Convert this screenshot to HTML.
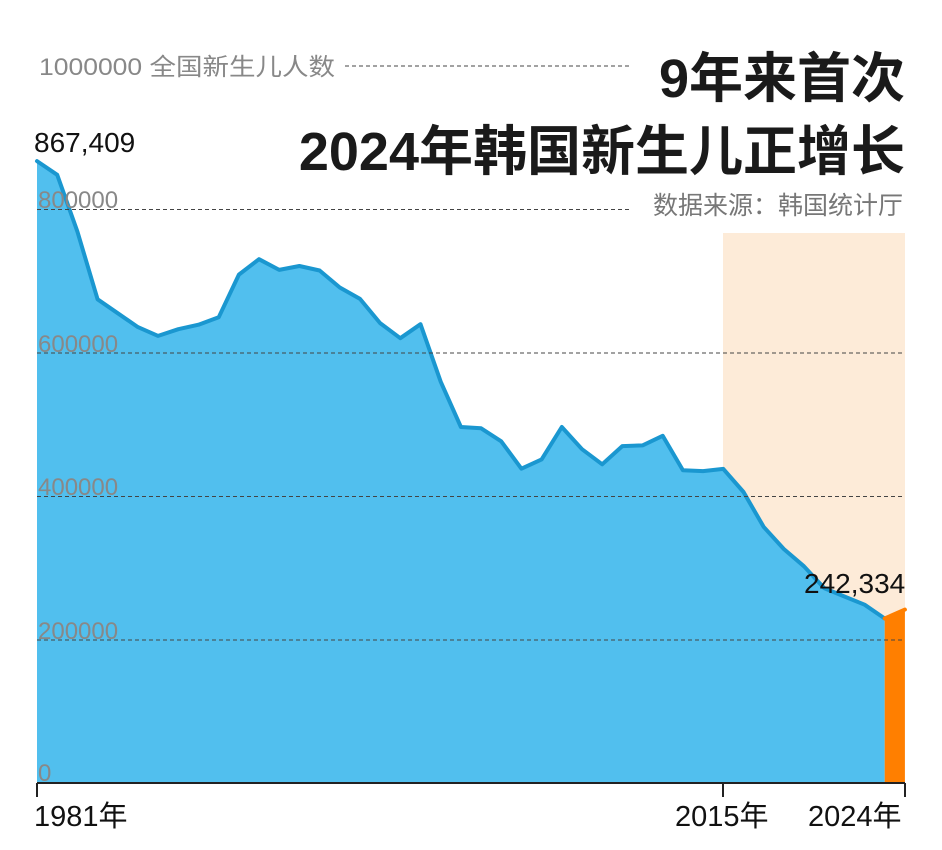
<!DOCTYPE html>
<html><head><meta charset="utf-8"><style>
body{margin:0;background:#fff;}
svg{display:block;font-family:"Liberation Sans","Noto Sans CJK SC",sans-serif;}
</style></head><body>
<svg width="942" height="850" viewBox="0 0 942 850">
<rect width="942" height="850" fill="#fff"/>
<rect x="723" y="233" width="182" height="550" fill="#fdebd8"/>
<path d="M37,161.1 L57.2,174.8 L77.4,231.6 L97.6,299.3 L117.7,313.2 L137.9,327.1 L158.1,335.9 L178.3,329.2 L198.5,324.7 L218.7,317.3 L238.9,274.6 L259,259.2 L279.2,269.9 L299.4,266 L319.6,270.5 L339.8,287.5 L360,298.9 L380.1,323.1 L400.3,338.2 L420.5,324.2 L440.7,381.7 L460.9,427 L481.1,428.3 L501.2,441.3 L521.4,468.7 L541.6,459.4 L561.8,427 L582,449.2 L602.2,464.3 L622.3,446.1 L642.5,445.4 L662.7,435.8 L682.9,470.3 L703.1,471.1 L723.3,468.9 L743.5,492 L763.6,526.8 L783.8,549 L804,566.3 L824.2,588.1 L844.4,596.5 L864.6,604.7 L884.7,618.5 L884.7,783 L37,783 Z" fill="#51bfee"/>
<path d="M884.7,618.5 L904.9,609.6 L904.9,783 L884.7,783 Z" fill="#ff7f00"/>
<path d="M37,161.1 L57.2,174.8 L77.4,231.6 L97.6,299.3 L117.7,313.2 L137.9,327.1 L158.1,335.9 L178.3,329.2 L198.5,324.7 L218.7,317.3 L238.9,274.6 L259,259.2 L279.2,269.9 L299.4,266 L319.6,270.5 L339.8,287.5 L360,298.9 L380.1,323.1 L400.3,338.2 L420.5,324.2 L440.7,381.7 L460.9,427 L481.1,428.3 L501.2,441.3 L521.4,468.7 L541.6,459.4 L561.8,427 L582,449.2 L602.2,464.3 L622.3,446.1 L642.5,445.4 L662.7,435.8 L682.9,470.3 L703.1,471.1 L723.3,468.9 L743.5,492 L763.6,526.8 L783.8,549 L804,566.3 L824.2,588.1 L844.4,596.5 L864.6,604.7 L884.7,618.5" fill="none" stroke="#1a97d0" stroke-width="4" stroke-linejoin="round" stroke-linecap="round"/>
<path d="M884.7,618.5 L904.9,609.6" stroke="#ff7f00" stroke-width="4" stroke-linecap="round"/>
<g stroke="#444" stroke-width="1" stroke-dasharray="4,3">
<line x1="345" y1="66" x2="630" y2="66"/>
<line x1="37" y1="209.5" x2="630" y2="209.5"/>
<line x1="37" y1="353" x2="905" y2="353"/>
<line x1="37" y1="496.5" x2="905" y2="496.5"/>
<line x1="37" y1="640" x2="905" y2="640"/>
</g>
<g fill="#888" font-size="24">
<text x="39" y="75" textLength="296" lengthAdjust="spacingAndGlyphs">1000000 全国新生儿人数</text>
<text x="38" y="208">800000</text>
<text x="38" y="352">600000</text>
<text x="38" y="495">400000</text>
<text x="38" y="639">200000</text>
<text x="38" y="781">0</text>
</g>
<text x="34" y="152" font-size="28" fill="#111">867,409</text>
<text x="804" y="593" font-size="28" fill="#111">242,334</text>
<g font-weight="bold" font-size="54" fill="#1a1a1a" text-anchor="end">
<text x="905" y="97">9年来首次</text>
<text x="905" y="170">2024年韩国新生儿正增长</text>
</g>
<text x="903" y="214" font-size="25" fill="#777" text-anchor="end">数据来源：韩国统计厅</text>
<line x1="37" y1="783" x2="905" y2="783" stroke="#222" stroke-width="2"/>
<g stroke="#222" stroke-width="2">
<line x1="37" y1="783" x2="37" y2="797"/>
<line x1="723" y1="783" x2="723" y2="797"/>
<line x1="905" y1="783" x2="905" y2="797"/>
</g>
<g font-size="29" fill="#111">
<text x="34" y="826">1981年</text>
<text x="675" y="826">2015年</text>
<text x="808" y="826">2024年</text>
</g>
</svg>
</body></html>
